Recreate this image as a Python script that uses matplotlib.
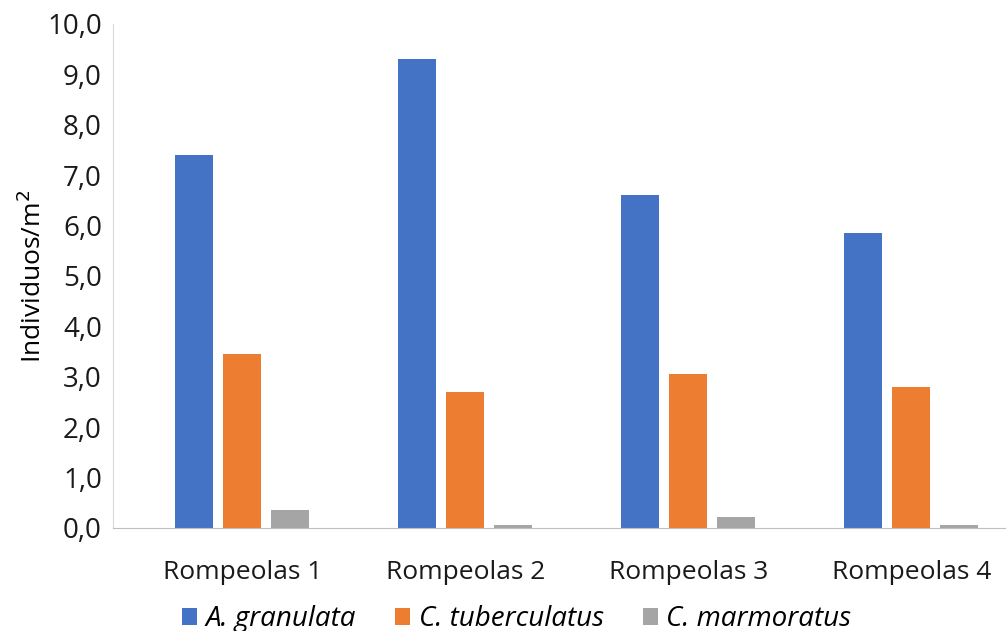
import numpy as np
import matplotlib.pyplot as plt

sitios = ["Rompeolas 1", "Rompeolas 2", "Rompeolas 3", "Rompeolas 4"]
a_granulata = [7.4, 9.3, 6.6, 5.85]
c_tuberculatus = [3.46, 2.7, 3.06, 2.8]
c_marmoratus = [0.36, 0.06, 0.22, 0.06]
series = [("A. granulata", a_granulata, "#4472C4"),
          ("C. tuberculatus", c_tuberculatus, "#ED7D31"),
          ("C. marmoratus", c_marmoratus, "#A5A5A5")]
yticks = np.arange(0, 10.1, 1.0)

plt.rcParams['font.family'] = ['Open Sans', 'DejaVu Sans']

fig = plt.figure(figsize=(10.07, 6.31), dpi=100)
ax = fig.add_axes([113 / 1007, 1 - 528 / 631, (1005 - 113) / 1007, (528 - 24) / 631])

x = np.arange(len(sitios))
w = 0.17
offs = [-0.215, 0.0, 0.215]
for (nombre, vals, col), o in zip(series, offs):
    ax.bar(x + o, vals, w, color=col, label=nombre)

ax.set_xlim(-0.58, 3.42)
ax.set_ylim(0, 10)
ax.set_yticks(yticks)
ax.set_yticklabels([f"{v:.1f}".replace(".", ",") for v in yticks], fontsize=20)
ax.set_xticks(x)
ax.set_xticklabels(sitios, fontsize=19)
ax.tick_params(axis="both", length=0, colors="#1a1a1a")
ax.tick_params(axis="x", pad=23)
ax.tick_params(axis="y", pad=8)
ax.set_ylabel("Individuos/m$^2$", fontsize=19, labelpad=0)

for s in ["top", "right"]:
    ax.spines[s].set_visible(False)
ax.spines["left"].set_color("#D9D9D9")
ax.spines["bottom"].set_color("#BFBFBF")

leg = fig.legend(loc="center", bbox_to_anchor=(0.513, 1 - 619 / 631), ncol=3,
                 frameon=False, prop={"size": 20, "style": "italic"},
                 handlelength=0.55, handleheight=0.55, handletextpad=0.3,
                 columnspacing=1.4)

fig.savefig("out.png", dpi=100)
